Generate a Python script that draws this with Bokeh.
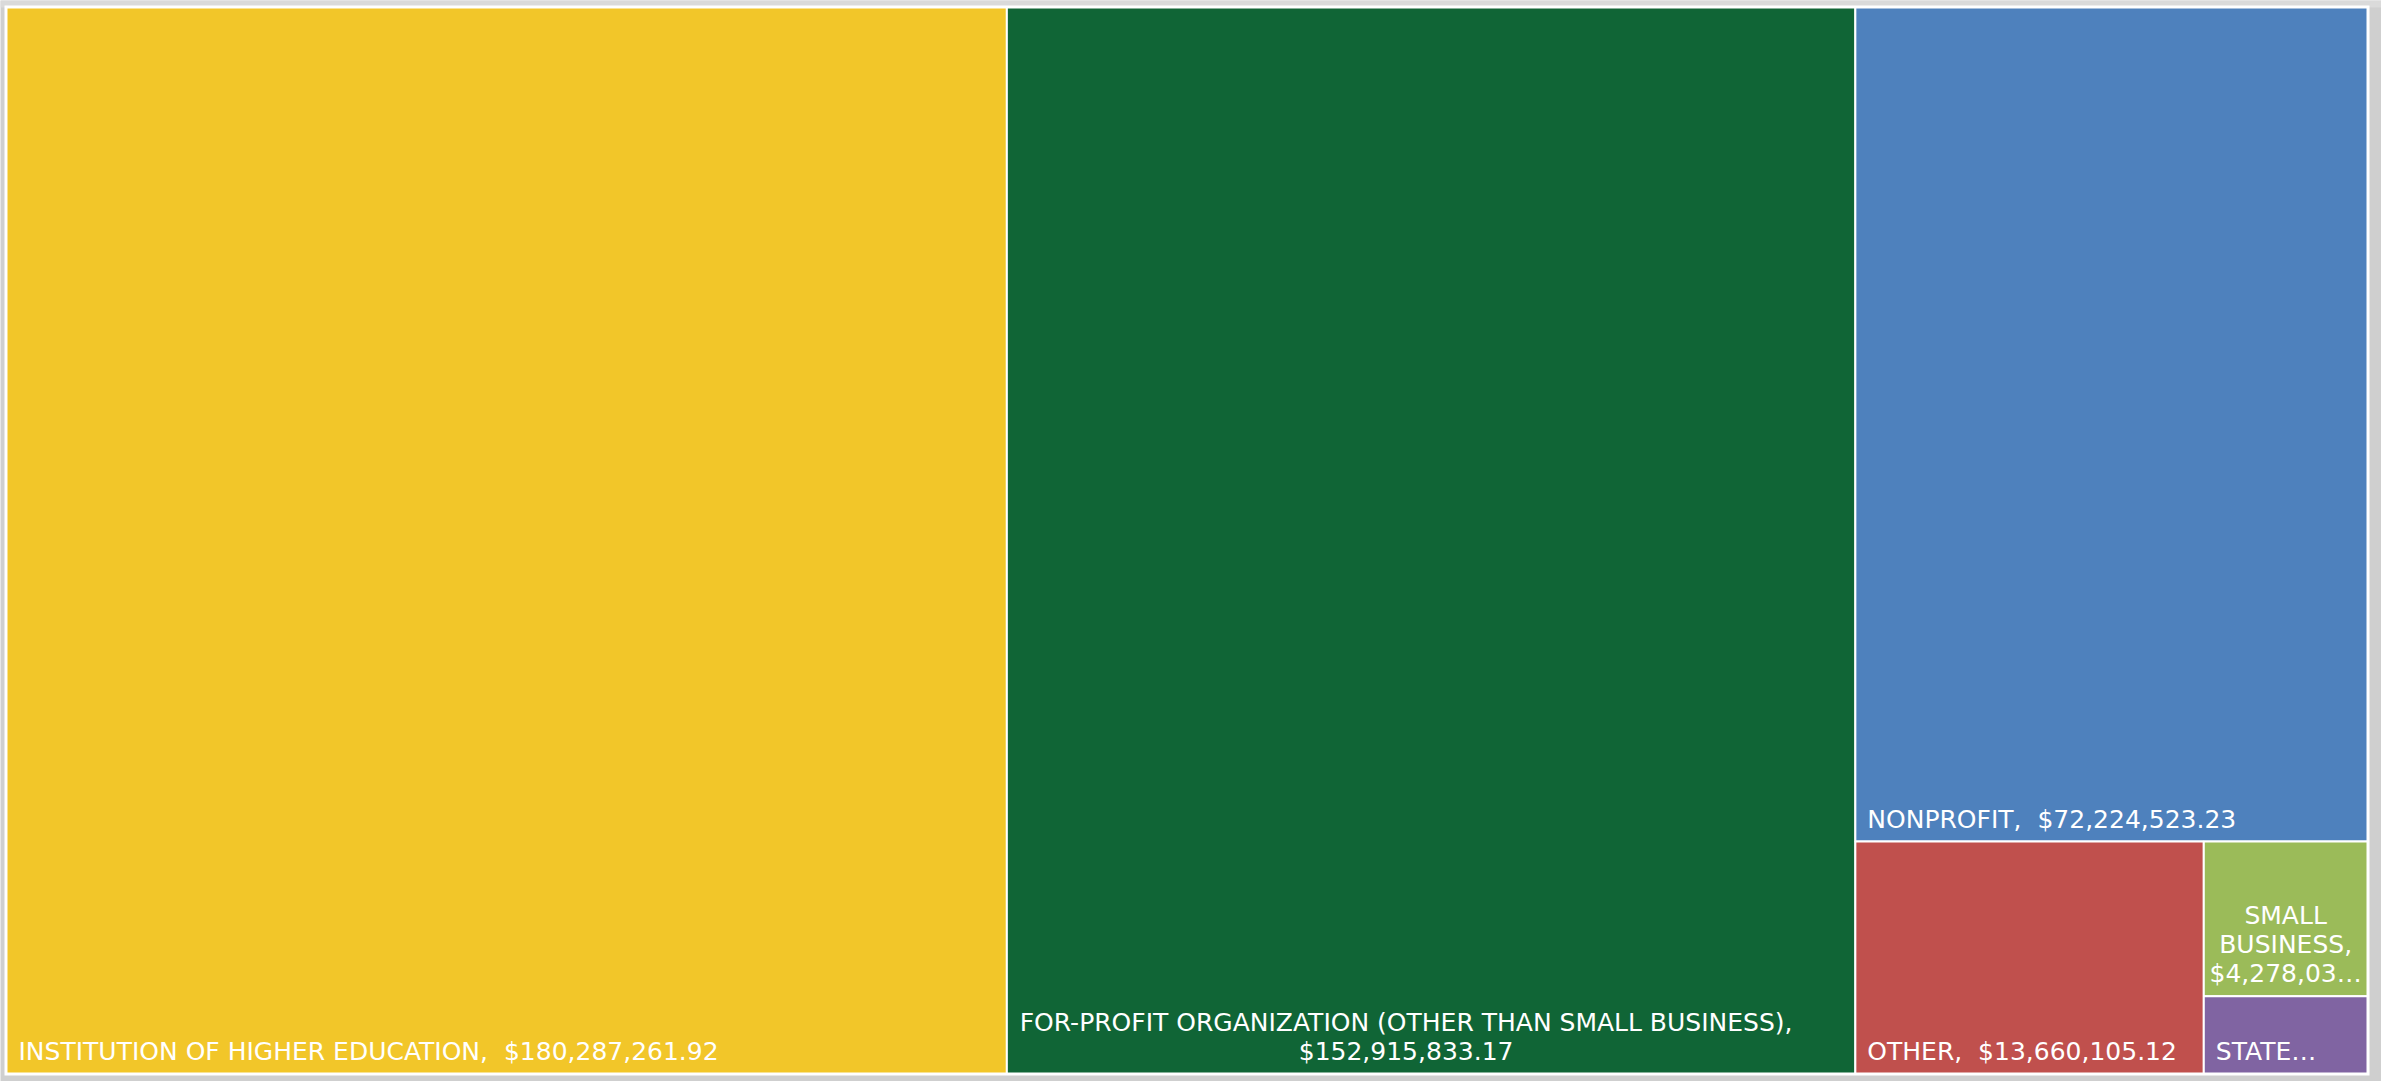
from bokeh.plotting import figure
from bokeh.models import Range1d, ColumnDataSource
from bokeh.core.properties import value
from bokeh.embed import file_html
from bokeh.resources import INLINE

# ---- data ----
categories = ["INSTITUTION OF HIGHER EDUCATION",
              "FOR-PROFIT ORGANIZATION (OTHER THAN SMALL BUSINESS)",
              "NONPROFIT", "OTHER", "SMALL BUSINESS", "STATE"]
amounts = [180287261.92, 152915833.17, 72224523.23, 13660105.12, 4278030.00, 2140000.00]
labels = ["INSTITUTION OF HIGHER EDUCATION, \u00a0$180,287,261.92",
          "FOR-PROFIT ORGANIZATION (OTHER THAN SMALL BUSINESS),\n$152,915,833.17",
          "NONPROFIT, \u00a0$72,224,523.23",
          "OTHER, \u00a0$13,660,105.12",
          "SMALL\nBUSINESS,\n$4,278,03\u2026",
          "STATE\u2026"]
colors = ["#F2C629", "#106536", "#4E81BD", "#C0504D", "#9BBB59", "#8064A2"]
label_nudge = [0, -25, 0, 0, 0, 0]

# ---- layout settings ----
FW, FH = 2381, 1081          # figure size (px)
AX0, AY0, AX1, AY1 = 6, 7, 2367, 1073   # treemap area (data units == px)
FONT = "DejaVu Sans"
FSIZE = "25px"
PAD_X = 12
PAD_Y = 8


def worst(row, side):
    s = sum(row)
    return max(max(side * side * r / (s * s), (s * s) / (side * side * r)) for r in row)


def squarify(vals, x, y, w, h):
    total = sum(vals)
    sizes = [v * w * h / total for v in vals]
    rects = []
    while sizes:
        short = min(w, h)
        row = [sizes[0]]
        i = 1
        while i < len(sizes) and worst(row + [sizes[i]], short) <= worst(row, short):
            row.append(sizes[i])
            i += 1
        s = sum(row)
        if w >= h:
            cw = s / h
            yy = y
            for a in row:
                rh = a / cw
                rects.append((x, yy, x + cw, yy + rh))
                yy += rh
            x += cw
            w -= cw
        else:
            rh = s / w
            xx = x
            for a in row:
                rw = a / rh
                rects.append((xx, y, xx + rw, y + rh))
                xx += rw
            y += rh
            h -= rh
        sizes = sizes[len(row):]
    return rects


rects = squarify(amounts, AX0, AY0, AX1 - AX0, AY1 - AY0)
left = [r[0] for r in rects]
top = [r[1] for r in rects]
right = [r[2] for r in rects]
bottom = [r[3] for r in rects]

src = ColumnDataSource(dict(left=left, right=right, top=top, bottom=bottom,
                            color=colors, cat=categories))

tx, ty, talign = [], [], []
for (x0, y0, x1, y1), lab in zip(rects, labels):
    if "\n" in lab:
        tx.append((x0 + x1) / 2)
        talign.append("center")
    else:
        tx.append(x0 + PAD_X)
        talign.append("left")
    ty.append(y1 - PAD_Y)
tsrc = ColumnDataSource(dict(x=tx, y=ty, text=labels, align=talign, dx=label_nudge))

p = figure(width=FW, height=FH, output_backend="svg", toolbar_location=None,
           x_range=Range1d(0, FW), y_range=Range1d(FH, 0),
           min_border=0)
p.axis.visible = False
p.grid.visible = False
p.outline_line_color = None
p.background_fill_color = "#cfcfcf"
p.border_fill_color = "#cfcfcf"

# lighter band at the top of the frame
p.quad(left=[0], right=[FW], top=[0], bottom=[AY0], fill_color="#dadada", line_color=None)
# white frame behind the tiles
p.quad(left=[AX0 - 2], right=[AX1 + 2], top=[AY0 - 2], bottom=[AY1 + 2],
       fill_color="white", line_color=None)

p.quad(left="left", right="right", top="top", bottom="bottom", source=src,
       fill_color="color", line_color="white", line_width=2)

p.text(x="x", y="y", text="text", source=tsrc, text_align="align", x_offset="dx",
       text_baseline="bottom", text_color="white",
       text_font=value(FONT), text_font_size=FSIZE, text_line_height=1.0)

open("out.html", "w").write(file_html(p, INLINE))
